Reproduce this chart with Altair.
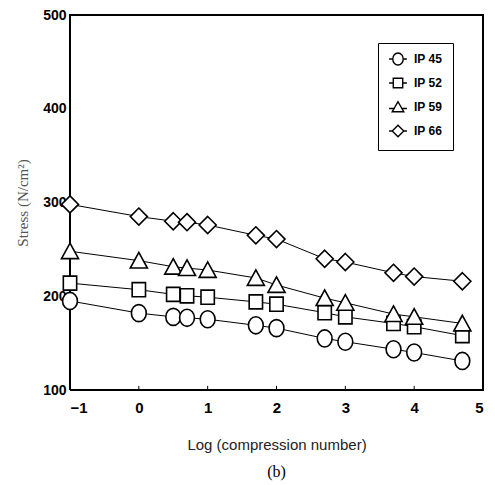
import altair as alt
import pandas as pd

x_vals = [-1, 0, 0.5, 0.7, 1, 1.7, 2, 2.7, 3, 3.7, 4, 4.7]
series = ["IP 45", "IP 52", "IP 59", "IP 66"]
ip45 = [195, 182, 178, 177, 175.5, 169, 166, 155, 151.5, 143.5, 140, 131]
ip52 = [214, 207, 202, 200.5, 199, 194, 191.5, 182.5, 178, 171, 167.5, 158]
ip59 = [248, 238, 231.5, 230, 228, 219.5, 212, 198, 193, 181, 178, 171]
ip66 = [298, 285, 280, 279, 276, 265, 261, 240, 236.5, 225, 221, 216]
x_ticks = [-1, 0, 1, 2, 3, 4, 5]
y_ticks = [100, 200, 300, 400, 500]

rows = []
for name, vals in zip(series, [ip45, ip52, ip59, ip66]):
    for xv, yv in zip(x_vals, vals):
        rows.append({"x": xv, "y": yv, "series": name})
df = pd.DataFrame(rows)

# plot frame drawn as a closed line through the axis-domain corners
x0, x1 = x_ticks[0], x_ticks[-1]
y0, y1 = y_ticks[0], y_ticks[-1]
frame_df = pd.DataFrame({"x": [x0, x0, x1, x1, x0], "y": [y0, y1, y1, y0, y0],
                         "k": [0, 1, 2, 3, 4]})
# short inward tick marks on the bottom axis
tick_len = (y1 - y0) * 0.011
tick_rows = []
for i, t in enumerate(x_ticks[1:-1]):
    tick_rows.append({"x": t, "y": y0, "t": i})
    tick_rows.append({"x": t, "y": y0 + tick_len, "t": i})
tick_df = pd.DataFrame(tick_rows)

plot_shapes = [
    "M1,0A1,1.15 0 1,1 -1,0A1,1.15 0 1,1 1,0",
    "M-0.9,-0.95L0.9,-0.95L0.9,0.95L-0.9,0.95Z",
    "M0,-1.1L1.15,1L-1.15,1Z",
    "M0,-1.15L1.15,0L0,1.15L-1.15,0Z",
]
legend_shapes = [
    "M-1.7,0L-1,0M1,0L1.7,0M1,0A1,1.15 0 1,1 -1,0A1,1.15 0 1,1 1,0",
    "M-1.7,0L-0.9,0M0.9,0L1.7,0M-0.9,-0.9L0.9,-0.9L0.9,0.9L-0.9,0.9Z",
    "M-1.7,0.3L-0.6,0.3M0.6,0.3L1.7,0.3M0,-1L1.1,0.9L-1.1,0.9Z",
    "M-1.7,0L-1.1,0M1.1,0L1.7,0M0,-1.1L1.1,0L0,1.1L-1.1,0Z",
]

xsc = alt.Scale(domain=[x0, x1], nice=False, zero=False)
ysc = alt.Scale(domain=[y0, y1], nice=False, zero=False)

xs = alt.X("x:Q", scale=xsc,
           axis=alt.Axis(values=x_ticks, format="d",
                         title="Log (compression number)", titleFont="Liberation Sans",
                         titleFontSize=15, titleFontWeight="normal", titleColor="#222",
                         titlePadding=22, labelFont="Liberation Sans", labelFontWeight="bold",
                         labelFontSize=15, labelColor="black", labelPadding=10,
                         ticks=False, domain=False, grid=False))
ys = alt.Y("y:Q", scale=ysc,
           axis=alt.Axis(values=y_ticks, title="Stress (N/cm²)",
                         titleFont="Liberation Serif", titleFontSize=15,
                         titleFontWeight="normal", titleColor="#555", titlePadding=12,
                         labelFont="Liberation Sans", labelFontWeight="bold",
                         labelFontSize=14, labelColor="black", labelPadding=4,
                         ticks=False, domain=False, grid=False))

frame = alt.Chart(frame_df).mark_line(color="black", strokeWidth=2).encode(
    x=xs, y=ys, order="k:Q")

ticks = alt.Chart(tick_df).mark_line(color="black", strokeWidth=1).encode(
    x="x:Q", y="y:Q", detail="t:N")

lines = alt.Chart(df).mark_line(color="black", strokeWidth=1).encode(
    x="x:Q", y="y:Q", detail="series:N")

points = alt.Chart(df).mark_point(filled=True, fill="white", stroke="black",
                                  strokeWidth=1.6, size=220, opacity=1).encode(
    x="x:Q", y="y:Q",
    shape=alt.Shape("series:N", scale=alt.Scale(domain=series, range=plot_shapes), legend=None))

legend_layer = alt.Chart(df).mark_point(
    filled=False, stroke="black", strokeWidth=1.4, size=0, opacity=1).encode(
    x="x:Q", y="y:Q",
    shape=alt.Shape("series:N", scale=alt.Scale(domain=series, range=legend_shapes),
                    legend=alt.Legend(title=None, orient="none", legendX=308, legendY=28,
                                      padding=10, strokeColor="black", fillColor="white",
                                      labelFont="Liberation Sans", labelFontWeight="bold",
                                      labelFontSize=12, labelColor="black", symbolSize=110,
                                      symbolStrokeWidth=1.4, symbolFillColor="white",
                                      symbolStrokeColor="black", symbolOpacity=1,
                                      rowPadding=7, labelOffset=10, symbolOffset=4)))

chart = alt.layer(frame, ticks, lines, points, legend_layer).resolve_scale(
    shape="independent").properties(
    width=413, height=375,
    autosize=alt.AutoSizeParams(type="none"),
    padding={"left": 70, "top": 15, "right": 12, "bottom": 95},
    background="white",
    title=alt.TitleParams("(b)", orient="bottom", font="Liberation Serif", fontSize=16,
                          fontWeight="normal", color="black", offset=12),
).configure_view(stroke=None)

chart.save("out.html", embed_options={"renderer": "svg", "actions": False})
